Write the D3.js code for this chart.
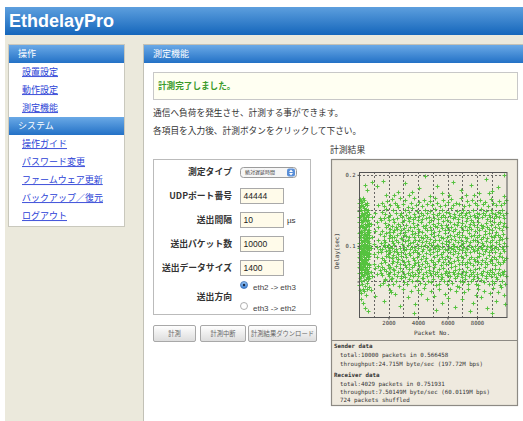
<!doctype html>
<html>
<head>
  <meta charset="utf-8">
  <title>EthdelayPro</title>
  <script src="https://cdnjs.cloudflare.com/ajax/libs/d3/7.8.5/d3.min.js"></script>
  <style>
    body { margin: 0; background: #fff; }
    svg { display: block; }
    .jp { font-family: "Noto Sans CJK JP", "Noto Sans", sans-serif; }
    .mono { font-family: "DejaVu Sans Mono", "Liberation Mono", monospace; }
  </style>
</head>
<body>
<div id="page"></div>
<script>
  // ---- page texts ----
  const sideOps = ["設置設定", "動作設定", "測定機能"];
  const sideSys = ["操作ガイド", "パスワード変更", "ファームウェア更新", "バックアップ／復元", "ログアウト"];
  const formLabels = ["測定タイプ", "UDPポート番号", "送出間隔", "送出パケット数", "送出データサイズ"];
  const formValues = [null, "44444", "10", "10000", "1400"];
  const directions = ["eth2 -> eth3", "eth3 -> eth2"];
  const buttons = ["計測", "計測中断", "計測結果ダウンロード"];
  const senderLines = ["total:10000 packets in 0.566458", "throughput:24.715M byte/sec (197.72M bps)"];
  const receiverLines = ["total:4029 packets in 0.751931", "throughput:7.50149M byte/sec (60.0119M bps)", "724 packets shuffled"];

  // ---- chart ticks ----
  const xTicks = [2000, 4000, 6000, 8000];
  const xGrid = [1000, 2000, 3000, 4000, 5000, 6000, 7000, 8000, 9000];
  const yTicks = [0.1, 0.2];
  const yGrid = [0.05, 0.1, 0.15, 0.2];

  // ---- delay data: [packet no., delays in ms ...] ----
  const burst = [
    [10, 45, 62, 78, 91, 104, 118, 133, 149, 160, 71, 97, 84, 140],
    [60, 38, 55, 69, 83, 99, 112, 127, 141, 155, 166, 88, 120, 75],
    [110, 50, 64, 80, 93, 108, 121, 136, 150, 163, 74, 58, 100, 129],
    [160, 34, 58, 72, 86, 101, 115, 130, 144, 158, 95, 120, 66, 108],
    [210, 47, 61, 76, 90, 105, 119, 134, 147, 162, 82, 68, 126, 96],
    [260, 40, 57, 70, 88, 100, 113, 128, 142, 156, 168, 93, 79, 135],
    [310, 52, 66, 79, 94, 109, 123, 138, 151, 165, 75, 107, 87, 117],
    [360, 36, 59, 73, 85, 97, 111, 125, 139, 153, 88, 64, 145, 103],
    [410, 44, 63, 77, 92, 103, 117, 131, 146, 159, 70, 99, 124, 82],
    [460, 31, 54, 68, 84, 98, 114, 126, 140, 152, 80, 110, 92, 137],
    [510, 48, 60, 75, 89, 106, 120, 135, 148, 161, 67, 95, 113, 129],
    [560, 39, 56, 71, 87, 102, 116, 129, 143, 157, 76, 91, 108, 62],
    [610, 53, 65, 81, 96, 107, 122, 137, 150, 85, 62, 118, 100, 140],
    [660, 42, 58, 74, 90, 104, 119, 132, 145, 73, 99, 128, 111, 86],
    [710, 55, 70, 88, 102, 116, 131, 94, 123]
  ];

  const band = [
    [780, 64, 97, 131], [880, 58, 112, 140], [990, 75, 103, 88], [1090, 69, 121, 146],
    [1190, 84, 99, 133, 60], [1290, 72, 108, 126, 91], [1390, 66, 95, 117, 139],
    [1490, 62, 91, 104, 137, 76], [1580, 59, 83, 96, 121, 148, 71], [1670, 67, 80, 109, 114, 139, 101],
    [1760, 54, 77, 98, 105, 132, 145], [1850, 65, 86, 93, 118, 127, 152], [1940, 61, 73, 99, 102, 129, 141, 88],
    [2030, 58, 69, 84, 94, 111, 136, 120], [2120, 63, 71, 92, 98, 115, 124, 143], [2210, 55, 76, 83, 107, 113, 128, 97],
    [2300, 68, 79, 87, 104, 119, 138, 151], [2390, 60, 66, 93, 101, 112, 133, 122], [2480, 72, 85, 96, 109, 127, 147],
    [2570, 57, 78, 91, 116, 124, 139], [2660, 63, 82, 89, 105, 131, 155], [2750, 69, 74, 97, 118, 128, 143],
    [2840, 58, 86, 92, 111, 122, 146], [2930, 65, 80, 103, 110, 134, 141], [3020, 61, 77, 94, 99, 125, 137, 115],
    [3110, 56, 73, 88, 107, 119, 150], [3200, 70, 84, 95, 114, 129, 144], [3290, 62, 79, 101, 108, 123, 139],
    [3380, 67, 75, 90, 113, 135, 148], [3470, 59, 87, 96, 104, 126, 141], [3560, 64, 71, 98, 117, 121, 153],
    [3650, 57, 83, 92, 106, 132, 138], [3740, 73, 80, 99, 112, 127, 145], [3830, 60, 76, 94, 109, 118, 140],
    [3920, 66, 85, 91, 103, 130, 149], [4010, 58, 78, 97, 115, 124, 136], [4100, 63, 72, 89, 108, 121, 142],
    [4190, 68, 81, 100, 112, 133, 147], [4280, 55, 74, 93, 105, 119, 138], [4370, 61, 86, 96, 111, 128, 144],
    [4460, 70, 79, 102, 116, 125, 151], [4550, 64, 83, 90, 107, 130, 139], [4640, 57, 76, 98, 113, 122, 146],
    [4730, 66, 72, 94, 104, 134, 141], [4820, 62, 88, 95, 110, 127, 149], [4910, 59, 80, 101, 117, 123, 137],
    [5000, 65, 77, 91, 106, 131, 145], [5090, 71, 84, 99, 114, 120, 139], [5180, 60, 75, 97, 109, 128, 152],
    [5270, 63, 87, 93, 102, 126, 143], [5360, 58, 79, 100, 115, 132, 138], [5450, 67, 82, 95, 108, 121, 147],
    [5540, 61, 73, 89, 113, 129, 141], [5630, 56, 85, 98, 104, 125, 150], [5720, 69, 78, 92, 111, 135, 144],
    [5810, 62, 81, 96, 118, 123, 140], [5900, 65, 74, 103, 107, 130, 148], [5990, 59, 86, 94, 112, 126, 137],
    [6080, 64, 77, 99, 105, 122, 146], [6170, 57, 83, 91, 116, 133, 142], [6260, 70, 76, 97, 110, 127, 153],
    [6350, 63, 88, 95, 103, 121, 139], [6440, 60, 79, 100, 114, 131, 145], [6530, 66, 72, 93, 108, 124, 141],
    [6620, 58, 84, 98, 117, 129, 149], [6710, 62, 80, 90, 106, 134, 138], [6800, 68, 75, 96, 112, 120, 144],
    [6890, 61, 86, 102, 109, 127, 147], [6980, 56, 77, 94, 115, 132, 140], [7070, 65, 83, 99, 104, 123, 151],
    [7160, 59, 74, 91, 113, 128, 143], [7250, 63, 87, 97, 107, 135, 146], [7340, 70, 78, 95, 111, 122, 139],
    [7430, 57, 82, 101, 118, 126, 148], [7520, 66, 76, 92, 105, 131, 142], [7610, 60, 85, 98, 114, 124, 137],
    [7700, 64, 73, 96, 109, 133, 150], [7790, 58, 81, 93, 116, 129, 144], [7880, 67, 79, 100, 108, 121, 141],
    [7970, 61, 84, 94, 112, 127, 147], [8060, 55, 77, 97, 106, 134, 139], [8150, 69, 86, 90, 115, 123, 145],
    [8240, 62, 75, 99, 110, 130, 152], [8330, 59, 80, 95, 104, 125, 140], [8420, 65, 88, 102, 113, 128, 146],
    [8510, 71, 78, 93, 117, 121, 143], [8600, 57, 83, 96, 107, 132, 149], [8690, 63, 74, 100, 111, 126, 138],
    [8780, 60, 87, 91, 118, 124, 144], [8870, 66, 79, 98, 105, 135, 141], [8960, 58, 82, 94, 114, 129, 150],
    [9050, 64, 76, 101, 109, 122, 147], [9140, 61, 85, 97, 112, 133, 139], [9230, 68, 73, 92, 116, 127, 145],
    [9320, 56, 81, 99, 106, 120, 142], [9410, 62, 78, 95, 115, 131, 148], [9500, 67, 86, 103, 108, 125, 140],
    [9590, 59, 75, 90, 113, 134, 146], [9680, 63, 84, 98, 110, 123, 151], [9770, 60, 77, 96, 117, 128, 143],
    [9860, 65, 80, 93, 104, 132, 139], [9950, 58, 83, 100, 111, 126, 147]
  ];

  // thinner points along the upper and lower edges of the band: [packet no., delay ms]
  const fringe = [
    [1550, 160], [1720, 156], [1900, 163], [2080, 158], [2250, 166], [2420, 161], [2600, 157], [2780, 168],
    [2960, 159], [3130, 164], [3330, 155], [3510, 160], [3700, 167], [3880, 157], [4060, 162], [4240, 156],
    [4420, 165], [4600, 159], [4780, 163], [4960, 157], [5140, 168], [5320, 160], [5500, 156], [5680, 164],
    [5860, 158], [6040, 162], [6220, 166], [6400, 157], [6580, 161], [6760, 159], [6940, 167], [7120, 156],
    [7300, 163], [7480, 158], [7660, 165], [7840, 160], [8020, 157], [8200, 164], [8380, 159], [8560, 162],
    [8740, 156], [8920, 166], [9100, 160], [9280, 158], [9460, 163], [9640, 157], [9820, 161], [9990, 165],
    [1600, 48], [1780, 52], [1960, 45], [2150, 54], [2330, 47], [2520, 51], [2700, 43], [2880, 55],
    [3060, 49], [3240, 46], [3420, 53], [3600, 50], [3780, 44], [3960, 52], [4140, 48], [4320, 55],
    [4500, 46], [4680, 51], [4860, 49], [5040, 54], [5220, 45], [5400, 47], [5580, 53], [5760, 50],
    [5940, 46], [6120, 52], [6300, 48], [6480, 55], [6660, 44], [6840, 51], [7020, 49], [7200, 53],
    [7380, 46], [7560, 50], [7740, 54], [7920, 47], [8100, 45], [8280, 52], [8460, 49], [8640, 55],
    [8820, 46], [9000, 51], [9180, 48], [9360, 53], [9540, 45], [9720, 50], [9900, 47]
  ];

  // scattered points outside the main band: [packet no., delay ms]
  const strays = [
    [520, 178], [380, 186], [900, 190], [1200, 185], [1650, 192], [2350, 172], [2650, 176],
    [3150, 188], [3600, 176], [4050, 181], [4500, 198], [4800, 170], [5300, 184], [5650, 175],
    [6100, 172], [6400, 190], [6900, 179], [7250, 172], [7600, 186], [8150, 174], [8600, 194],
    [9050, 177], [9400, 183], [9800, 200], [9850, 170], [1300, 157], [3400, 171], [1800, 171],
    [7800, 172], [8800, 175],
    [250, 20], [400, 12], [150, 25], [800, 38], [1100, 30], [1400, 45], [1700, 22], [2100, 38],
    [2200, 35], [2450, 32], [2800, 15], [3000, 40], [3300, 28], [3500, 36], [3800, 18], [4000, 38],
    [4200, 33], [4400, 41], [4600, 25], [4900, 37], [5100, 30], [5400, 39], [5600, 20], [5800, 33],
    [6000, 27], [6200, 40], [6500, 14], [6600, 36], [6800, 42], [7000, 26], [7100, 35], [7400, 39],
    [7700, 19], [7900, 31], [8100, 40], [8300, 28], [8500, 37], [8700, 12], [8900, 34], [9100, 41],
    [9300, 22], [9450, 35], [9600, 42], [9800, 31], [9900, 18], [600, 8], [3700, 5], [5200, 10],
    [7500, 8], [9000, 6]
  ];

  const W = 523, H = 421;
  const svg = d3.select('#page').append('svg').attr('width', W).attr('height', H);
  const defs = svg.append('defs');

  function grad(id, stops) {
    const g = defs.append('linearGradient').attr('id', id)
      .attr('x1', 0).attr('y1', 0).attr('x2', 0).attr('y2', 1);
    stops.forEach(s => g.append('stop').attr('offset', s[0]).attr('stop-color', s[1]));
  }
  grad('topbar', [[0, '#5d9fde'], [1, '#1566bb']]);
  grad('bar', [[0, '#6aa9e6'], [1, '#2371c6']]);
  grad('btn', [[0, '#ffffff'], [1, '#dcdcdc']]);
  grad('radio', [[0, '#9cc8f4'], [1, '#3c82d8']]);

  // page background + title bar
  svg.append('rect').attr('x', 5).attr('y', 35).attr('width', W - 5).attr('height', H - 35).attr('fill', '#ebe9dc');
  svg.append('rect').attr('x', 5).attr('y', 7).attr('width', W - 5).attr('height', 28).attr('fill', 'url(#topbar)');
  svg.append('text').attr('x', 9).attr('y', 27)
    .style('font-family', '"Liberation Sans", Arial, sans-serif')
    .style('font-weight', 'bold').style('font-size', '18px')
    .attr('fill', '#fff').text('EthdelayPro');

  // ---- sidebar ----
  svg.append('rect').attr('x', 8.5).attr('y', 44.5).attr('width', 116).attr('height', 182)
    .attr('fill', '#fff').attr('stroke', '#c9c8bd');
  function sideHead(y, label) {
    svg.append('rect').attr('x', 9).attr('y', y).attr('width', 115).attr('height', 18).attr('fill', 'url(#bar)');
    svg.append('text').attr('class', 'jp').attr('x', 18).attr('y', y + 9).attr('dy', '0.35em')
      .style('font-size', '9px').attr('fill', '#fff').text(label);
  }
  sideHead(45, '操作');
  sideHead(117, 'システム');
  const linkY = d3.scaleLinear().domain([0, 1]).range([0, 18]);
  function links(list, y0) {
    svg.append('g').selectAll('text').data(list).join('text')
      .attr('class', 'jp').attr('x', 22).attr('y', (d, i) => y0 + linkY(i)).attr('dy', '0.35em')
      .style('font-size', '9px').style('text-decoration', 'underline')
      .attr('fill', '#2b3fd6').text(d => d);
  }
  links(sideOps, 72);
  links(sideSys, 144);

  // ---- main panel ----
  svg.append('rect').attr('x', 143.5).attr('y', 44.5).attr('width', W).attr('height', H)
    .attr('fill', '#fff').attr('stroke', '#c2c1b6');
  svg.append('rect').attr('x', 144).attr('y', 45).attr('width', W).attr('height', 18).attr('fill', 'url(#bar)');
  svg.append('text').attr('class', 'jp').attr('x', 153).attr('y', 54).attr('dy', '0.35em')
    .style('font-size', '9px').attr('fill', '#fff').text('測定機能');

  svg.append('rect').attr('x', 153.5).attr('y', 72.5).attr('width', 364).attr('height', 27)
    .attr('fill', '#fffff2').attr('stroke', '#c8c8c8');
  svg.append('text').attr('class', 'jp').attr('x', 158).attr('y', 86).attr('dy', '0.35em')
    .style('font-size', '8.6px').style('font-weight', 'bold').attr('fill', '#3a9a2a').text('計測完了しました。');

  svg.append('text').attr('class', 'jp').attr('x', 153).attr('y', 113).attr('dy', '0.35em')
    .style('font-size', '8.7px').attr('fill', '#333').text('通信へ負荷を発生させ、計測する事ができます。');
  svg.append('text').attr('class', 'jp').attr('x', 153).attr('y', 131).attr('dy', '0.35em')
    .style('font-size', '8.7px').attr('fill', '#333').text('各項目を入力後、計測ボタンをクリックして下さい。');

  // ---- form ----
  svg.append('rect').attr('x', 153.5).attr('y', 159.5).attr('width', 157).attr('height', 155)
    .attr('fill', '#fff').attr('stroke', '#bbb');
  const rowY = d3.scaleLinear().domain([0, 1]).range([172, 196]);
  const rows = svg.append('g').selectAll('g').data(formLabels).join('g');
  rows.append('text').attr('class', 'jp').attr('x', 232).attr('y', (d, i) => rowY(i)).attr('dy', '0.35em')
    .attr('text-anchor', 'end').style('font-size', '8.8px').style('font-weight', 'bold')
    .attr('fill', '#333').text(d => d);
  const inputs = rows.filter((d, i) => formValues[i] !== null);
  inputs.append('rect')
    .attr('x', 240.5).attr('y', d => rowY(formLabels.indexOf(d)) - 7.5).attr('width', 43).attr('height', 15)
    .attr('fill', '#fffbea').attr('stroke', '#a9a9a9');
  inputs.append('text')
    .attr('x', 243.5).attr('y', d => rowY(formLabels.indexOf(d))).attr('dy', '0.35em')
    .style('font-family', '"Liberation Sans", Arial, sans-serif').style('font-size', '8.5px')
    .attr('fill', '#222').text(d => formValues[formLabels.indexOf(d)]);
  svg.append('text').attr('x', 287).attr('y', rowY(2)).attr('dy', '0.35em')
    .style('font-family', '"Liberation Sans", Arial, sans-serif').style('font-size', '8px')
    .attr('fill', '#333').text('µs');

  // select box
  svg.append('rect').attr('x', 240.5).attr('y', 167.5).attr('width', 56).attr('height', 10).attr('rx', 3)
    .attr('fill', '#f6f6f6').attr('stroke', '#9c9c9c');
  svg.append('text').attr('class', 'jp').attr('x', 245).attr('y', 172.5).attr('dy', '0.35em')
    .style('font-size', '5px').attr('fill', '#444').text('絶対遅延時間');
  svg.append('rect').attr('x', 287).attr('y', 168.5).attr('width', 8).attr('height', 8).attr('rx', 2).attr('fill', '#5a8fd8');
  svg.append('path').attr('d', 'M289,172L291,169.5L293,172ZM289,173L291,175.5L293,173Z').attr('fill', '#fff');

  // direction radios
  svg.append('text').attr('class', 'jp').attr('x', 232).attr('y', 297).attr('dy', '0.35em')
    .attr('text-anchor', 'end').style('font-size', '8.8px').style('font-weight', 'bold')
    .attr('fill', '#333').text('送出方向');
  const radioY = d3.scaleLinear().domain([0, 1]).range([285, 306]);
  const radios = svg.append('g').selectAll('g').data(directions).join('g');
  radios.append('circle').attr('cx', 244).attr('cy', (d, i) => radioY(i)).attr('r', 3.5)
    .attr('fill', (d, i) => i === 0 ? 'url(#radio)' : '#fff')
    .attr('stroke', (d, i) => i === 0 ? '#3a6fb5' : '#9a9a9a').attr('stroke-width', 0.8);
  radios.filter((d, i) => i === 0).append('circle').attr('cx', 244).attr('cy', radioY(0)).attr('r', 1.2).attr('fill', '#1b2a44');
  radios.append('text').attr('x', 253).attr('y', (d, i) => radioY(i) + 2).attr('dy', '0.35em')
    .style('font-family', '"Liberation Sans", Arial, sans-serif').style('font-size', '8px')
    .attr('fill', '#444').text(d => d);

  // buttons
  const btnX = [153.5, 200.5, 248.5], btnW = [42, 45, 68];
  const btns = svg.append('g').selectAll('g').data(buttons).join('g');
  btns.append('rect').attr('x', (d, i) => btnX[i]).attr('y', 325.5).attr('width', (d, i) => btnW[i]).attr('height', 16)
    .attr('rx', 1.5).attr('fill', 'url(#btn)').attr('stroke', '#a8a8a8');
  btns.append('text').attr('class', 'jp').attr('x', (d, i) => btnX[i] + btnW[i] / 2).attr('y', 333.5).attr('dy', '0.35em')
    .attr('text-anchor', 'middle').style('font-size', '6.3px').attr('fill', '#666').text(d => d);

  // ---- result chart ----
  svg.append('text').attr('class', 'jp').attr('x', 330).attr('y', 150).attr('dy', '0.35em')
    .style('font-size', '8.8px').attr('fill', '#333').text('計測結果');
  svg.append('rect').attr('x', 331.5).attr('y', 159.5).attr('width', 186).attr('height', 246)
    .attr('fill', '#efeadf').attr('stroke', '#8d8a84').attr('stroke-width', 1.2);
  svg.append('line').attr('x1', 332).attr('x2', 518).attr('y1', 340.5).attr('y2', 340.5).attr('stroke', '#8d8a84');

  const x = d3.scaleLinear().domain([0, 10000]).range([359, 506.5]);
  const y = d3.scaleLinear().domain([0, 0.204]).range([317, 172]);

  const plot = svg.append('g');
  plot.selectAll('line.gx').data(xGrid).join('line').attr('class', 'gx')
    .attr('x1', d => Math.round(x(d)) + 0.5).attr('x2', d => Math.round(x(d)) + 0.5)
    .attr('y1', y.range()[1]).attr('y2', y.range()[0])
    .attr('stroke', '#444').attr('stroke-width', 0.8).attr('stroke-dasharray', '2,2');
  plot.selectAll('line.gy').data(yGrid).join('line').attr('class', 'gy')
    .attr('x1', x.range()[0]).attr('x2', x.range()[1])
    .attr('y1', d => Math.round(y(d)) + 0.5).attr('y2', d => Math.round(y(d)) + 0.5)
    .attr('stroke', '#444').attr('stroke-width', 0.8).attr('stroke-dasharray', '2,2');

  // points: flatten the rows into [packet, delay] pairs
  const points = burst.concat(band)
    .flatMap(r => r.slice(1).map(v => [r[0], v]))
    .concat(fringe, strays);
  plot.append('g').selectAll('path').data(points).join('path')
    .attr('d', d => {
      const px = Math.round(x(d[0])) + 0.5, py = Math.round(y(d[1] / 1000)) + 0.5;
      return `M${px - 2},${py}h4M${px},${py - 2}v4`;
    })
    .attr('stroke', '#55c23f').attr('stroke-width', 1).attr('fill', 'none');

  // frame
  plot.append('rect').attr('x', x.range()[0] + 0.5).attr('y', y.range()[1] + 0.5)
    .attr('width', x.range()[1] - x.range()[0]).attr('height', y.range()[0] - y.range()[1])
    .attr('fill', 'none').attr('stroke', '#555');

  // axes
  const xAxis = plot.append('g').attr('transform', `translate(0,${y.range()[0] + 0.5})`)
    .call(d3.axisBottom(x).tickValues(xTicks).tickSize(2).tickPadding(2).tickFormat(d3.format('d')));
  const yAxis = plot.append('g').attr('transform', `translate(${x.range()[0] + 0.5},0)`)
    .call(d3.axisLeft(y).tickValues(yGrid).tickSize(2).tickPadding(2)
      .tickFormat(d => yTicks.includes(d) ? d3.format('.1f')(d) : ''));
  [xAxis, yAxis].forEach(a => {
    a.select('.domain').remove();
    a.selectAll('line').attr('stroke', '#444');
    a.selectAll('text').attr('class', 'mono').style('font-size', '5.6px').attr('fill', '#333');
  });

  svg.append('text').attr('class', 'mono').attr('x', 432).attr('y', 333).attr('dy', '0.35em')
    .attr('text-anchor', 'middle').style('font-size', '6px').attr('fill', '#333').text('Packet No.');
  svg.append('text').attr('class', 'mono').attr('transform', 'translate(337,251) rotate(-90)')
    .attr('dy', '0.35em').attr('text-anchor', 'middle').style('font-size', '6px').attr('fill', '#333').text('Delay(sec)');

  // summary text
  const info = svg.append('g').attr('class', 'mono').style('font-size', '5.8px').attr('fill', '#333');
  info.append('text').attr('x', 334).attr('y', 346).attr('dy', '0.35em').style('font-weight', 'bold').text('Sender data');
  info.selectAll('text.s').data(senderLines).join('text').attr('class', 's')
    .attr('x', 340).attr('y', (d, i) => 355 + i * 8.5).attr('dy', '0.35em').text(d => d);
  info.append('text').attr('x', 334).attr('y', 375).attr('dy', '0.35em').style('font-weight', 'bold').text('Receiver data');
  info.selectAll('text.r').data(receiverLines).join('text').attr('class', 'r')
    .attr('x', 340).attr('y', (d, i) => 383.5 + i * 8.2).attr('dy', '0.35em').text(d => d);
</script>
</body>
</html>
